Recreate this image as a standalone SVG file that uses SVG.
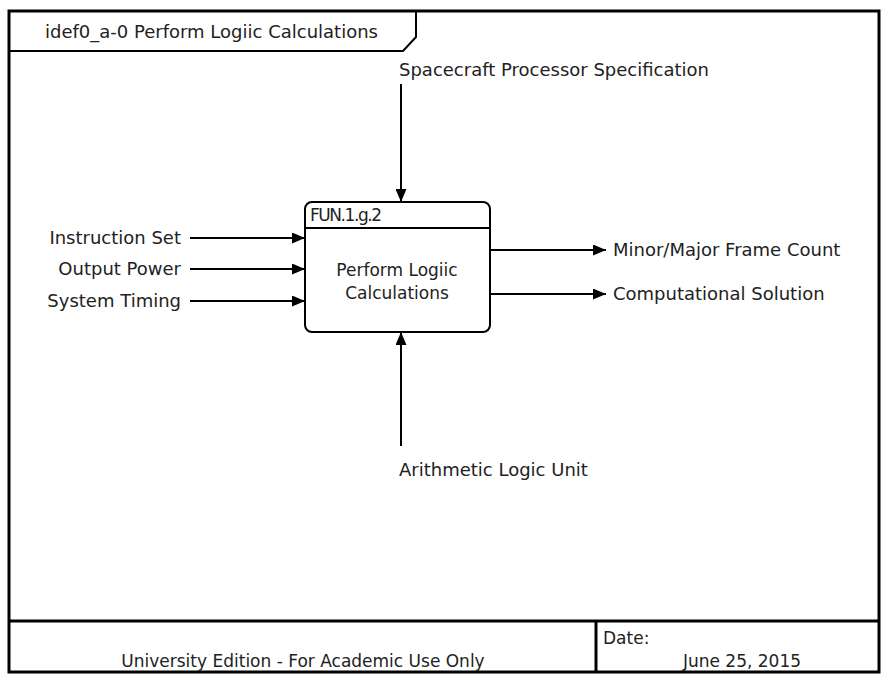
<svg xmlns="http://www.w3.org/2000/svg" width="889" height="682" viewBox="0 0 889 682">
<defs>
<marker id="ah" viewBox="0 0 13 11" refX="13" refY="5.5" markerWidth="13" markerHeight="11" markerUnits="userSpaceOnUse" orient="auto">
<path d="M0,0 L13,5.5 L0,11 Z" fill="#000"/>
</marker>
</defs>
<style>
text{font-family:"DejaVu Sans","Liberation Sans",sans-serif;font-size:18px;fill:#222;}
.frame{fill:none;stroke:#000;stroke-width:3;}
.conn{fill:none;stroke:#000;stroke-width:2;marker-end:url(#ah);}
.box{fill:#fff;stroke:#000;stroke-width:2;}
.inbox{font-size:17px;}
.foot{font-size:17px;}
</style>
<rect width="889" height="682" fill="#fff"/>
<g id="frame">
<rect class="frame" x="9" y="11" width="870" height="661"/>
<path d="M9,51 L403,51 L416,37 L416,11" fill="none" stroke="#000" stroke-width="2"/>
<text x="45" y="38">idef0_a-0 Perform Logiic Calculations</text>
<line class="frame" x1="9" y1="621" x2="879" y2="621"/>
<line class="frame" x1="596" y1="621" x2="596" y2="672"/>
<text class="foot" x="303" y="667" text-anchor="middle">University Edition - For Academic Use Only</text>
<text class="foot" x="603" y="644">Date:</text>
<text class="foot" x="742" y="667" text-anchor="middle">June 25, 2015</text>
</g>
<g id="node-fun-1g2">
<rect class="box" x="305" y="202" width="185" height="130" rx="7"/>
<line x1="305" y1="228" x2="490" y2="228" stroke="#000" stroke-width="2"/>
<text x="310" y="221" class="inbox" textLength="72" lengthAdjust="spacing">FUN.1.g.2</text>
<text x="397" y="276" class="inbox" text-anchor="middle">Perform Logiic</text>
<text x="397" y="299" class="inbox" text-anchor="middle">Calculations</text>
</g>
<g id="connectors">
<line class="conn" x1="401" y1="84" x2="401" y2="202"/>
<line class="conn" x1="401" y1="446" x2="401" y2="332"/>
<line class="conn" x1="190" y1="238" x2="305" y2="238"/>
<line class="conn" x1="190" y1="269" x2="305" y2="269"/>
<line class="conn" x1="190" y1="301" x2="305" y2="301"/>
<line class="conn" x1="490" y1="250" x2="606" y2="250"/>
<line class="conn" x1="490" y1="294" x2="606" y2="294"/>
</g>
<g id="labels">
<text x="399" y="76">Spacecraft Processor Specification</text>
<text x="181" y="244" text-anchor="end">Instruction Set</text>
<text x="181" y="275" text-anchor="end">Output Power</text>
<text x="181" y="307" text-anchor="end">System Timing</text>
<text x="613" y="256">Minor/Major Frame Count</text>
<text x="613" y="300">Computational Solution</text>
<text x="399" y="476">Arithmetic Logic Unit</text>
</g>
</svg>
